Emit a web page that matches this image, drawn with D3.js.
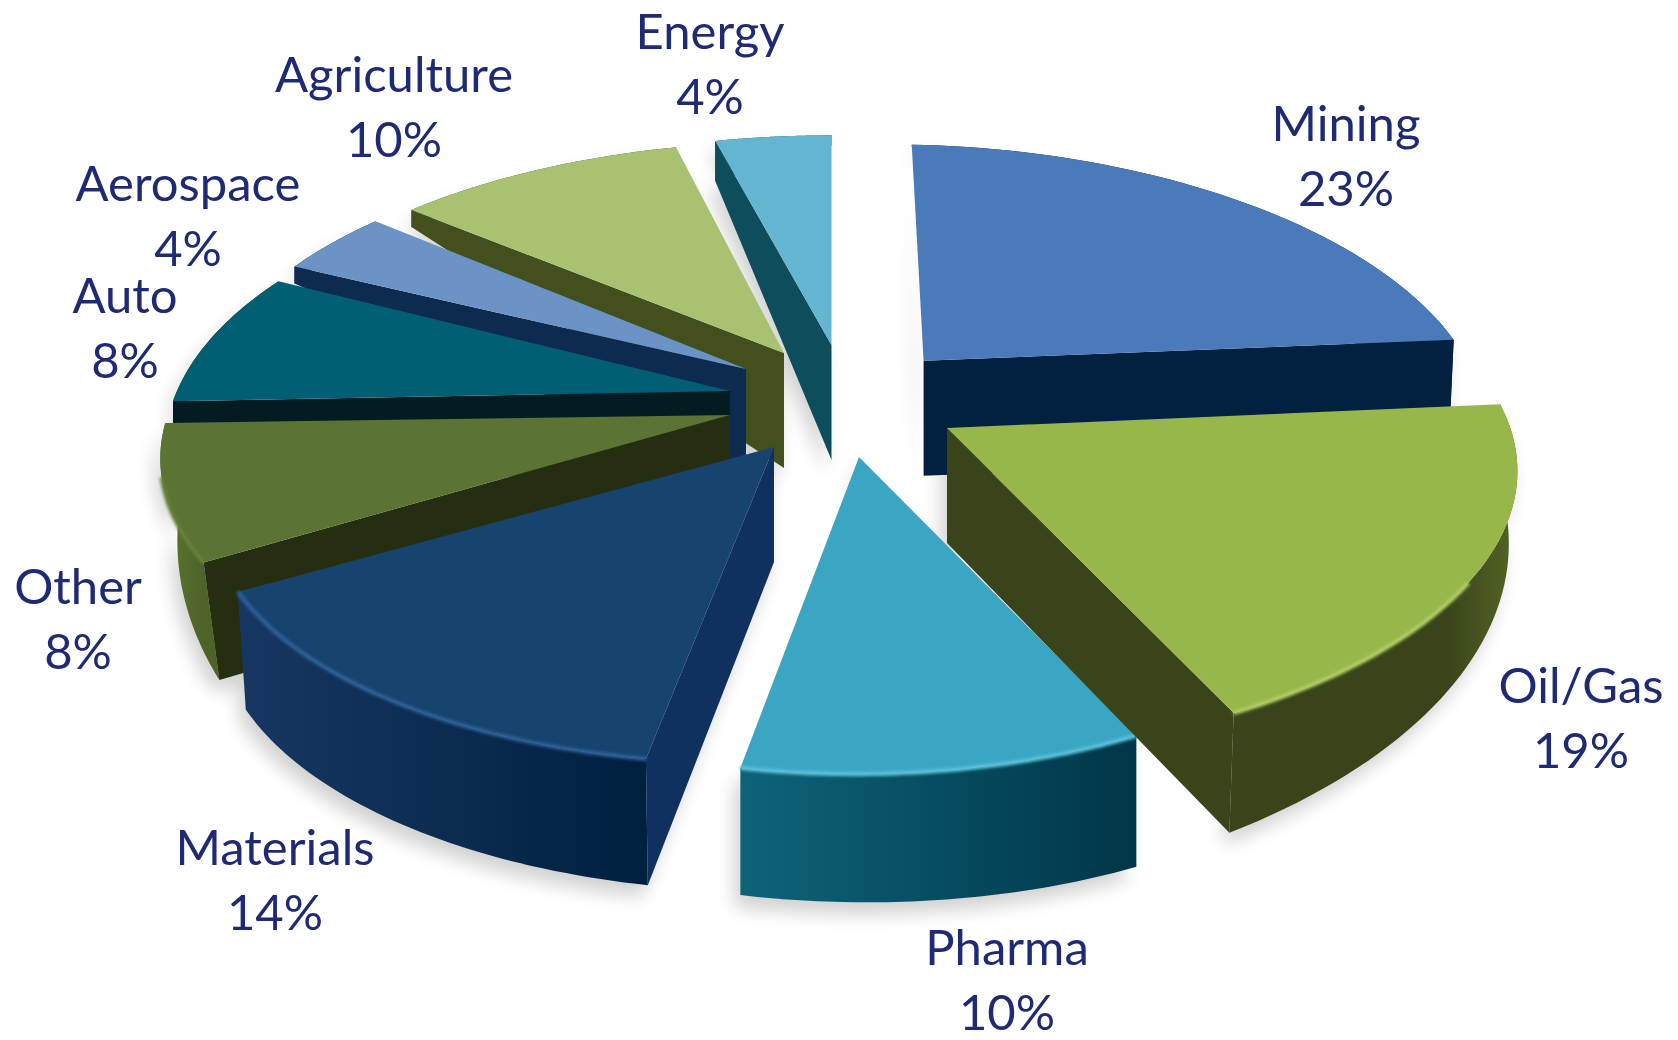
<!DOCTYPE html>
<html><head><meta charset="utf-8">
<script src="https://cdn.jsdelivr.net/npm/d3@7"></script>
<style>html,body{margin:0;padding:0;background:#fff;overflow:hidden}text{font-family:Lato,"Open Sans",sans-serif}</style>
</head><body><svg id="c" width="1678" height="1040"></svg>
<script>
const categories=["Mining","Oil/Gas","Pharma","Materials","Other","Auto","Aerospace","Agriculture","Energy"];
const shares=[23,19,10,14,8,8,4,10,4];
// Exploded layout of each wedge on the page: apex, radius, skews, y squash, rim wall depth at start/end, base shrink, visible radial wall
const layout=[
 {ax:923.6,ay:360.7,r:549,sh:-.055,ky:.02,ys:.973,depth:[0,115],shrink:.99,wall:"end"},
 {ax:947,ay:428,r:566,sh:.148,ky:.016,ys:.975,depth:[60,124],shrink:.985,wall:"end"},
 {ax:859,ay:457,r:532,sh:.115,ky:.03,ys:1,depth:[131,127],shrink:1,wall:null},
 {ax:774,ay:447,r:547,sh:.138,ky:.015,ys:.97,depth:[131,120],shrink:.985,wall:"start"},
 {ax:730,ay:415,r:559,sh:0,ky:.015,ys:.965,depth:[122,70],shrink:.97,wall:"start"},
 {ax:730,ay:391,r:550,sh:.08,ky:.012,ys:1,depth:[30,10],shrink:1,wall:"start"},
 {ax:746,ay:369,r:540,sh:0,ky:0,ys:1,depth:[17,10],shrink:1,wall:"start"},
 {ax:784,ay:353,r:550.5,sh:.036,ky:0,ys:.95,depth:[17,10],shrink:1,wall:"start"},
 {ax:831.5,ay:345,r:555,sh:0,ky:0,ys:.935,depth:[40,10],shrink:1,wall:"start"}
];
const colors=[
 {top:"#4a7ab9",wall:"#02203f",rim:["#02203f","#02203f"],bevel:null},
 {top:"#97b74b",wall:"#39441a",rim:["#39441a","#39441a","#566526"],bevel:"#b4cf66",span:[.55,1]},
 {top:"#3ba6c4",wall:"#0d6077",rim:["#0e6379","#003648"],bevel:"#5cc3dc",span:[0,1]},
 {top:"#17436f",wall:"#10315f",rim:["#173763","#00203f"],bevel:"#2f6299",span:[0,1]},
 {top:"#5b7333",wall:"#252e11",rim:["#5e7631","#4e6328"],bevel:"#66803a",span:[0,.6]},
 {top:"#005f73",wall:"#021c22",rim:["#004050","#004050"],bevel:null},
 {top:"#6c93c5",wall:"#0d2b50",rim:["#0d2b50","#0d2b50"],bevel:null},
 {top:"#a9c271",wall:"#434f1c",rim:["#434f1c","#434f1c"],bevel:null},
 {top:"#64b5cf",wall:"#0e4d5b",rim:["#0e4d5b","#0e4d5b"],bevel:null}
];
const labelCenter=[1346,1581,1007,275,78,125,188,394,710];
const labelBase=[141,703,965,865,604,313,201,92,49];
const labelGap=65, apexDepth=115, persp=.193, tilt=.482;
const paintOrder=[8,7,6,5,4,0,3,2,1];

const svg=d3.select("#c"), defs=svg.append("defs");
const f=defs.append("filter").attr("id","sh").attr("x","-20%").attr("y","-20%").attr("width","140%").attr("height","140%");
f.append("feGaussianBlur").attr("stdDeviation",9);
const fb=defs.append("filter").attr("id","bv").attr("x","-10%").attr("y","-10%").attr("width","120%").attr("height","120%");
fb.append("feGaussianBlur").attr("stdDeviation",1.8);

const arcs=d3.pie().sort(null).value(d=>d)(shares);
const line=d3.line();

function rimPoint(i,a){
  const L=layout[i], u=Math.sin(a), v=Math.cos(a), s=1/(1+persp*v);
  const y=-L.r*tilt*v*s*L.ys;
  const x=L.r*u*s-L.sh*y;
  return [L.ax+x, L.ay+y+L.ky*x];
}
function slice(i){
  const A=arcs[i], L=layout[i];
  const ang=d3.range(0,49).map(k=>A.startAngle+(A.endAngle-A.startAngle)*k/48);
  const depth=d3.scaleLinear().domain([A.startAngle,A.endAngle]).range(L.depth);
  const top=ang.map(a=>rimPoint(i,a));
  const bot=ang.map((a,k)=>{const p=top[k];return [L.ax+(p[0]-L.ax)*L.shrink,L.ay+(p[1]-L.ay)*L.shrink+depth(a)];});
  return {top,bot,apex:[L.ax,L.ay],apexB:[L.ax,L.ay+apexDepth]};
}
const geo=categories.map((_,i)=>slice(i));

// soft ground shadow
const shadow=svg.append("g").attr("filter","url(#sh)").attr("fill","#000").attr("opacity",.18);
geo.forEach(g=>{
  shadow.append("path").attr("transform","translate(-6,12)").attr("d",line([g.apex,...g.top,...g.bot.slice().reverse(),g.apexB])+"Z");
});

paintOrder.forEach(i=>{
  const g=geo[i], C=colors[i], L=layout[i], s=svg.append("g").attr("class","slice");
  const xs=d3.extent(g.top,p=>p[0]);
  const id="rim"+i;
  const lg=defs.append("linearGradient").attr("id",id).attr("gradientUnits","userSpaceOnUse")
    .attr("x1",xs[0]).attr("x2",xs[1]).attr("y1",0).attr("y2",0);
  const stopAt=C.rim.length===3?[0,.75,1]:[0,1];
  C.rim.forEach((c,k)=>lg.append("stop").attr("offset",stopAt[k]).attr("stop-color",c));
  s.append("path").attr("fill",`url(#${id})`).attr("d",line([...g.top,...g.bot.slice().reverse()])+"Z");
  if(L.wall){
    const k=L.wall==="start"?0:g.top.length-1;
    s.append("path").attr("fill",C.wall).attr("d",line([g.apex,g.top[k],g.bot[k],g.apexB])+"Z");
  }
  s.append("path").attr("fill",C.top).attr("d",line([g.apex,...g.top])+"Z");
  if(C.bevel){
    const n=g.top.length-1, a0=Math.round(C.span[0]*n), a1=Math.round(C.span[1]*n);
    s.append("path").attr("fill","none").attr("stroke",C.bevel).attr("stroke-width",4).attr("filter","url(#bv)")
      .attr("d",line(g.top.slice(a0,a1+1)));
  }
});

const lab=svg.append("g").attr("fill","#1f2a75").attr("font-size",49).attr("text-anchor","middle");
categories.forEach((c,i)=>{
  lab.append("text").attr("x",labelCenter[i]).attr("y",labelBase[i]).text(c);
  lab.append("text").attr("x",labelCenter[i]).attr("y",labelBase[i]+labelGap).text(shares[i]+"%");
});
</script></body></html>
